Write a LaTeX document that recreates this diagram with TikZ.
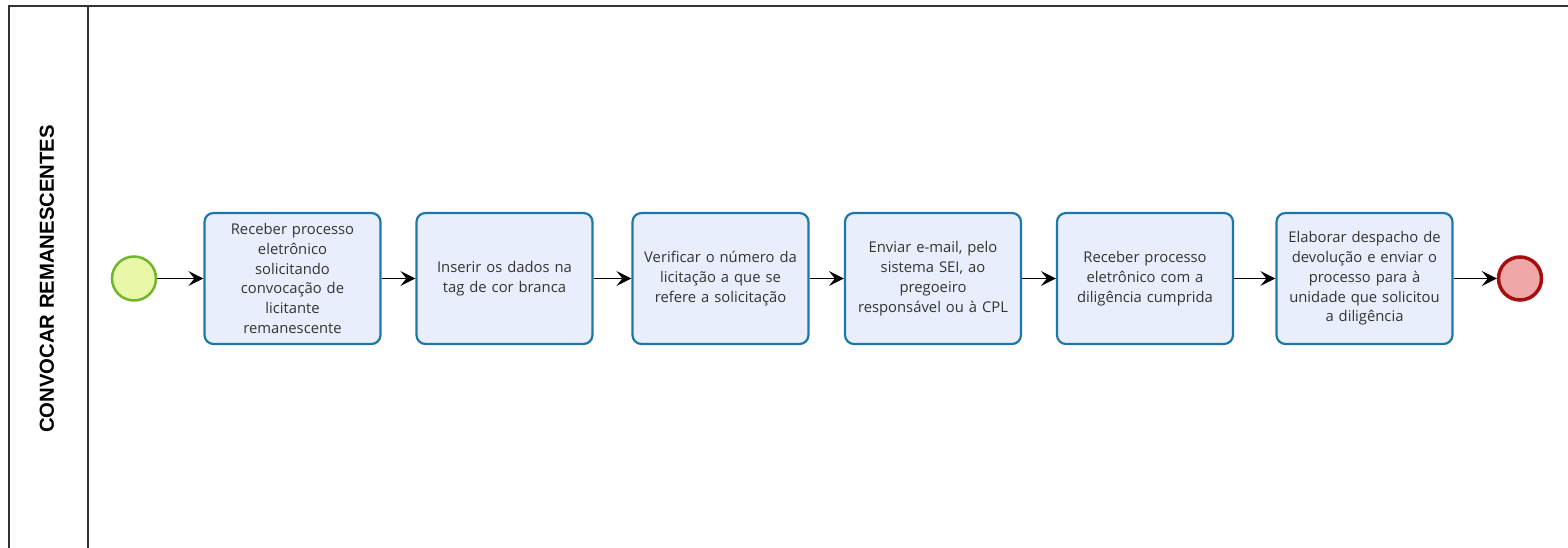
\documentclass[tikz,border=0pt]{standalone}
\usepackage{fontspec}
\setmainfont{Open Sans}
\newfontfamily\titlefont{Liberation Sans}
\usetikzlibrary{arrows.meta}
\definecolor{taskfill}{HTML}{E9EEFC}
\definecolor{taskdraw}{HTML}{1F77A8}
\definecolor{startfill}{HTML}{E8F8A8}
\definecolor{startdraw}{HTML}{72B52A}
\definecolor{endfill}{HTML}{EFA7A7}
\definecolor{enddraw}{HTML}{A50E0E}
\definecolor{txt}{HTML}{333333}
\tikzset{
  task/.style={draw=taskdraw, fill=taskfill, line width=2.2pt, rounded corners=9pt,
    minimum width=176pt, minimum height=131pt, text width=170pt, align=center,
    font=\fontsize{14.8}{19.8}\selectfont, text=txt, inner sep=0pt},
  startev/.style={circle, draw=startdraw, fill=startfill, line width=2.5pt, minimum size=44pt, inner sep=0pt},
  endev/.style={circle, draw=enddraw, fill=endfill, line width=3.5pt, minimum size=43pt, inner sep=0pt},
  flow/.style={draw=black, line width=1.3pt, -{Stealth[length=15pt, width=15pt, inset=6pt]}},
  pool/.style={draw=black!80, line width=1.5pt}
}
\begin{document}
\begin{tikzpicture}[x=1pt,y=-1pt]
\useasboundingbox (0,0) rectangle (1568,548);
\draw[pool] (9,560) -- (9,6) -- (1580,6);
\draw[pool] (88,6) -- (88,560);
\node[rotate=90, font=\titlefont\bfseries\fontsize{20.3}{24}\selectfont] (title) at (47,279) {CONVOCAR REMANESCENTES};
\node[startev] (s) at (134,278.5) {};
\node[task] (t1) at (292.5,278.5) {Receber processo\\eletrônico\\solicitando\\convocação de\\licitante\\remanescente};
\node[task] (t2) at (504.5,278.5) {Inserir os dados na\\tag de cor branca};
\node[task] (t3) at (720.5,278.5) {Verificar o número da\\licitação a que se\\refere a solicitação};
\node[task] (t4) at (933,278.5) {Enviar e-mail, pelo\\sistema SEI, ao\\pregoeiro\\responsável ou à CPL};
\node[task] (t5) at (1145,278.5) {Receber processo\\eletrônico com a\\diligência cumprida};
\node[task] (t6) at (1364.5,278.5) {Elaborar despacho de\\devolução e enviar o\\processo para à\\unidade que solicitou\\a diligência};
\node[endev] (e) at (1520,278.5) {};
\draw[flow] (s) -- (t1);
\draw[flow] (t1) -- (t2);
\draw[flow] (t2) -- (t3);
\draw[flow] (t3) -- (t4);
\draw[flow] (t4) -- (t5);
\draw[flow] (t5) -- (t6);
\draw[flow] (t6) -- (e);
\end{tikzpicture}
\end{document}
